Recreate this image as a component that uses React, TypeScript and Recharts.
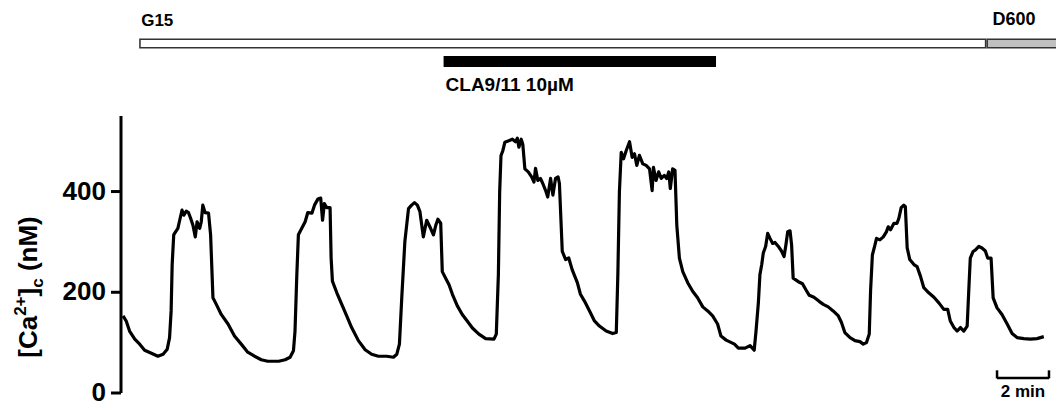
import { ComposedChart, Line, XAxis, YAxis, ReferenceLine, Label } from "recharts";

// time (min) and cytosolic Ca2+ (nM)
const TIME_MIN = [
  0.08, 0.2, 0.33, 0.53, 0.72, 0.91, 1.17, 1.42, 1.62, 1.78, 1.87, 1.93, 1.97, 2.03, 2.1, 2.19, 2.26, 2.35, 2.42, 2.51,
  2.6, 2.68, 2.77, 2.86, 2.93, 3.03, 3.09, 3.15, 3.24, 3.37, 3.45, 3.54, 3.67, 3.86, 4.12, 4.37, 4.63, 4.88, 5.14, 5.4,
  5.65, 5.85, 6.07, 6.32, 6.51, 6.64, 6.7, 6.77, 6.83, 6.96, 7.09, 7.19, 7.35, 7.45, 7.58, 7.69, 7.76, 7.83, 7.92, 8.05,
  8.09, 8.14, 8.31, 8.5, 8.69, 8.88, 9.14, 9.4, 9.65, 9.91, 10.23, 10.49, 10.62, 10.72, 10.81, 10.93, 11.07, 11.19, 11.3, 11.41,
  11.51, 11.64, 11.77, 11.92, 12.03, 12.12, 12.2, 12.31, 12.37, 12.5, 12.63, 12.76, 12.95, 13.14, 13.33, 13.53, 13.78, 14.04, 14.36, 14.45,
  14.53, 14.58, 14.63, 14.7, 14.78, 14.93, 15.07, 15.19, 15.26, 15.32, 15.41, 15.47, 15.55, 15.68, 15.81, 15.9, 15.96, 16.05, 16.15, 16.24,
  16.35, 16.43, 16.54, 16.63, 16.73, 16.83, 16.88, 16.99, 17.12, 17.24, 17.37, 17.57, 17.69, 17.85, 18.04, 18.23, 18.42, 18.68, 18.93, 19.07,
  19.13, 19.19, 19.26, 19.35, 19.45, 19.58, 19.68, 19.77, 19.86, 19.96, 20.09, 20.22, 20.35, 20.45, 20.5, 20.6, 20.7, 20.8, 20.92, 21.01,
  21.09, 21.15, 21.24, 21.33, 21.4, 21.5, 21.63, 21.82, 22.01, 22.2, 22.4, 22.59, 22.78, 22.97, 23.1, 23.3, 23.62, 23.77, 24.03, 24.22,
  24.38, 24.45, 24.54, 24.6, 24.67, 24.73, 24.82, 24.9, 24.99, 25.09, 25.18, 25.31, 25.43, 25.53, 25.6, 25.67, 25.76, 25.82, 25.88, 26.08,
  26.24, 26.37, 26.5, 26.68, 26.88, 27.04, 27.23, 27.42, 27.62, 27.74, 27.87, 28.07, 28.26, 28.45, 28.58, 28.7, 28.81, 28.86, 28.93, 29.03,
  29.09, 29.22, 29.35, 29.47, 29.54, 29.63, 29.76, 29.88, 29.95, 30.04, 30.14, 30.2, 30.27, 30.37, 30.53, 30.65, 30.78, 30.91, 31.1, 31.3,
  31.49, 31.68, 31.83, 31.93, 32.07, 32.19, 32.32, 32.45, 32.58, 32.64, 32.7, 32.81, 32.9, 33.03, 33.15, 33.28, 33.37, 33.5, 33.58, 33.73,
  33.92, 34.12, 34.31, 34.5, 34.76, 35.01, 35.27, 35.53,
];

const CA_NM = [
  153, 143, 123, 107, 97, 85, 79, 73, 77, 87, 110, 163, 255, 314, 320, 327, 343, 363, 353, 361,
  358, 347, 333, 310, 340, 327, 340, 373, 358, 357, 314, 189, 176, 156, 137, 113, 97, 81, 73, 66,
  63, 63, 63, 66, 71, 84, 123, 235, 314, 327, 340, 358, 357, 373, 385, 387, 343, 376, 368, 368,
  268, 222, 199, 176, 153, 130, 104, 86, 77, 73, 73, 71, 77, 97, 189, 301, 366, 373, 378, 373,
  360, 310, 343, 327, 314, 333, 345, 337, 241, 228, 215, 196, 173, 156, 143, 129, 117, 108, 107, 117,
  235, 399, 471, 481, 498, 501, 504, 499, 506, 488, 504, 494, 445, 439, 429, 419, 446, 422, 426, 416,
  402, 389, 426, 393, 426, 429, 416, 281, 265, 268, 245, 219, 196, 182, 163, 143, 133, 123, 118, 120,
  235, 399, 478, 465, 481, 499, 468, 475, 452, 472, 455, 452, 445, 402, 448, 422, 439, 426, 432, 426,
  439, 406, 445, 442, 333, 268, 241, 219, 202, 189, 171, 163, 153, 137, 113, 105, 97, 89, 89, 94,
  85, 123, 179, 235, 255, 278, 291, 317, 307, 297, 299, 291, 282, 271, 294, 320, 322, 294, 228, 221,
  217, 205, 194, 190, 182, 176, 171, 163, 153, 140, 120, 110, 104, 102, 97, 100, 117, 202, 274, 294,
  307, 304, 310, 320, 330, 324, 337, 337, 347, 368, 373, 370, 288, 265, 255, 251, 232, 209, 199, 190,
  179, 166, 166, 143, 130, 123, 130, 123, 133, 202, 268, 281, 284, 291, 288, 282, 268, 268, 189, 169,
  156, 137, 118, 110, 108, 107, 108, 112,
];

const Y_TICKS = [0, 200, 400];

// solution periods (min)
const G15_PERIOD = [0.7, 33.32];
const D600_PERIOD = [33.32, 36];
const CLA_PERIOD = [12.42, 22.91];
const SCALE_BAR = [33.73, 35.73];
const BORDER_MIN = 0.06;

// annotation rows drawn above the axis top, in axis units
const SOLUTION_ROW = 694;
const DRUG_ROW = 658;

const X_DOMAIN: [number, number] = [0, 36];
const FONT = "'Liberation Sans', Arial, sans-serif";

const traceData = TIME_MIN.map((t, i) => ({ t, ca: CA_NM[i] }));

function barLabel(text: string, dx: number, dy: number, size: number) {
  return (props: any) => {
    const vb = props.viewBox || {};
    return (
      <text x={vb.x + dx} y={vb.y + dy} fontFamily={FONT} fontWeight="bold" fontSize={size} fill="#000">
        {text}
      </text>
    );
  };
}

function YTick(props: any) {
  return (
    <text
      x={props.x}
      y={props.y + 8}
      textAnchor="end"
      fontFamily={FONT}
      fontWeight="bold"
      fontSize={26}
      fill="#000"
    >
      {props.payload.value}
    </text>
  );
}

function YLabel() {
  const cx = 37;
  const cy = 287;
  return (
    <text
      x={cx}
      y={cy}
      transform={`rotate(-90 ${cx} ${cy})`}
      textAnchor="middle"
      fontFamily={FONT}
      fontWeight="bold"
      fontSize={26}
      fill="#000"
    >
      <tspan>[Ca</tspan>
      <tspan fontSize={17} dy={-11}>2+</tspan>
      <tspan dy={11}>]</tspan>
      <tspan fontSize={17} dy={6}>c</tspan>
      <tspan dy={-6}> (nM)</tspan>
    </text>
  );
}

function rowBar(key: string, from: number, to: number, row: number, color: string, width: number, label?: any) {
  return (
    <ReferenceLine
      key={key}
      segment={[{ x: from, y: row }, { x: to, y: row }]}
      ifOverflow="visible"
      stroke={color}
      strokeWidth={width}
      label={label}
    />
  );
}

export default function App() {
  return (
    <div style={{ position: "absolute", left: 0, top: 0, width: 1056, height: 403, background: "#fff" }}>
      <ComposedChart width={1056} height={403} data={traceData} margin={{ top: 116, right: 0, bottom: 10, left: 0 }}>
        <XAxis type="number" dataKey="t" domain={X_DOMAIN} hide />
        <YAxis
          type="number"
          domain={[0, 550]}
          allowDataOverflow
          ticks={Y_TICKS}
          interval={0}
          width={121}
          axisLine={{ stroke: "#000", strokeWidth: 3 }}
          tickLine={{ stroke: "#000", strokeWidth: 3 }}
          tickSize={10}
          tickMargin={5}
          tick={YTick}
          label={<Label content={YLabel} />}
        />

        {rowBar("g15-edge", G15_PERIOD[0], G15_PERIOD[1], SOLUTION_ROW, "#333", 10, barLabel("G15", 2, -17, 17))}
        {rowBar("g15", G15_PERIOD[0] + BORDER_MIN, G15_PERIOD[1] - BORDER_MIN, SOLUTION_ROW, "#fff", 7)}
        {rowBar("d600-edge", D600_PERIOD[0], D600_PERIOD[1], SOLUTION_ROW, "#333", 10, barLabel("D600", 6, -18, 18))}
        {rowBar("d600", D600_PERIOD[0] + BORDER_MIN, D600_PERIOD[1], SOLUTION_ROW, "#c0c0c0", 7)}
        {rowBar("cla", CLA_PERIOD[0], CLA_PERIOD[1], DRUG_ROW, "#000", 11, barLabel("CLA9/11 10µM", 2, 29, 19))}

        <Line
          type="linear"
          dataKey="ca"
          stroke="#000"
          strokeWidth={3.2}
          strokeLinejoin="round"
          dot={false}
          isAnimationActive={false}
        />
        <ReferenceLine
          segment={[{ x: SCALE_BAR[0], y: 30 }, { x: SCALE_BAR[1], y: 30 }]}
          stroke="#000"
          strokeWidth={2.5}
          label={(props: any) => {
            const vb = props.viewBox || {};
            return (
              <text
                x={vb.x + vb.width / 2}
                y={vb.y + 19}
                textAnchor="middle"
                fontFamily={FONT}
                fontWeight="bold"
                fontSize={17}
                fill="#000"
              >
                2 min
              </text>
            );
          }}
        />
        <ReferenceLine segment={[{ x: SCALE_BAR[0], y: 29 }, { x: SCALE_BAR[0], y: 45 }]} stroke="#000" strokeWidth={2.5} />
        <ReferenceLine segment={[{ x: SCALE_BAR[1], y: 29 }, { x: SCALE_BAR[1], y: 45 }]} stroke="#000" strokeWidth={2.5} />
      </ComposedChart>
    </div>
  );
}
